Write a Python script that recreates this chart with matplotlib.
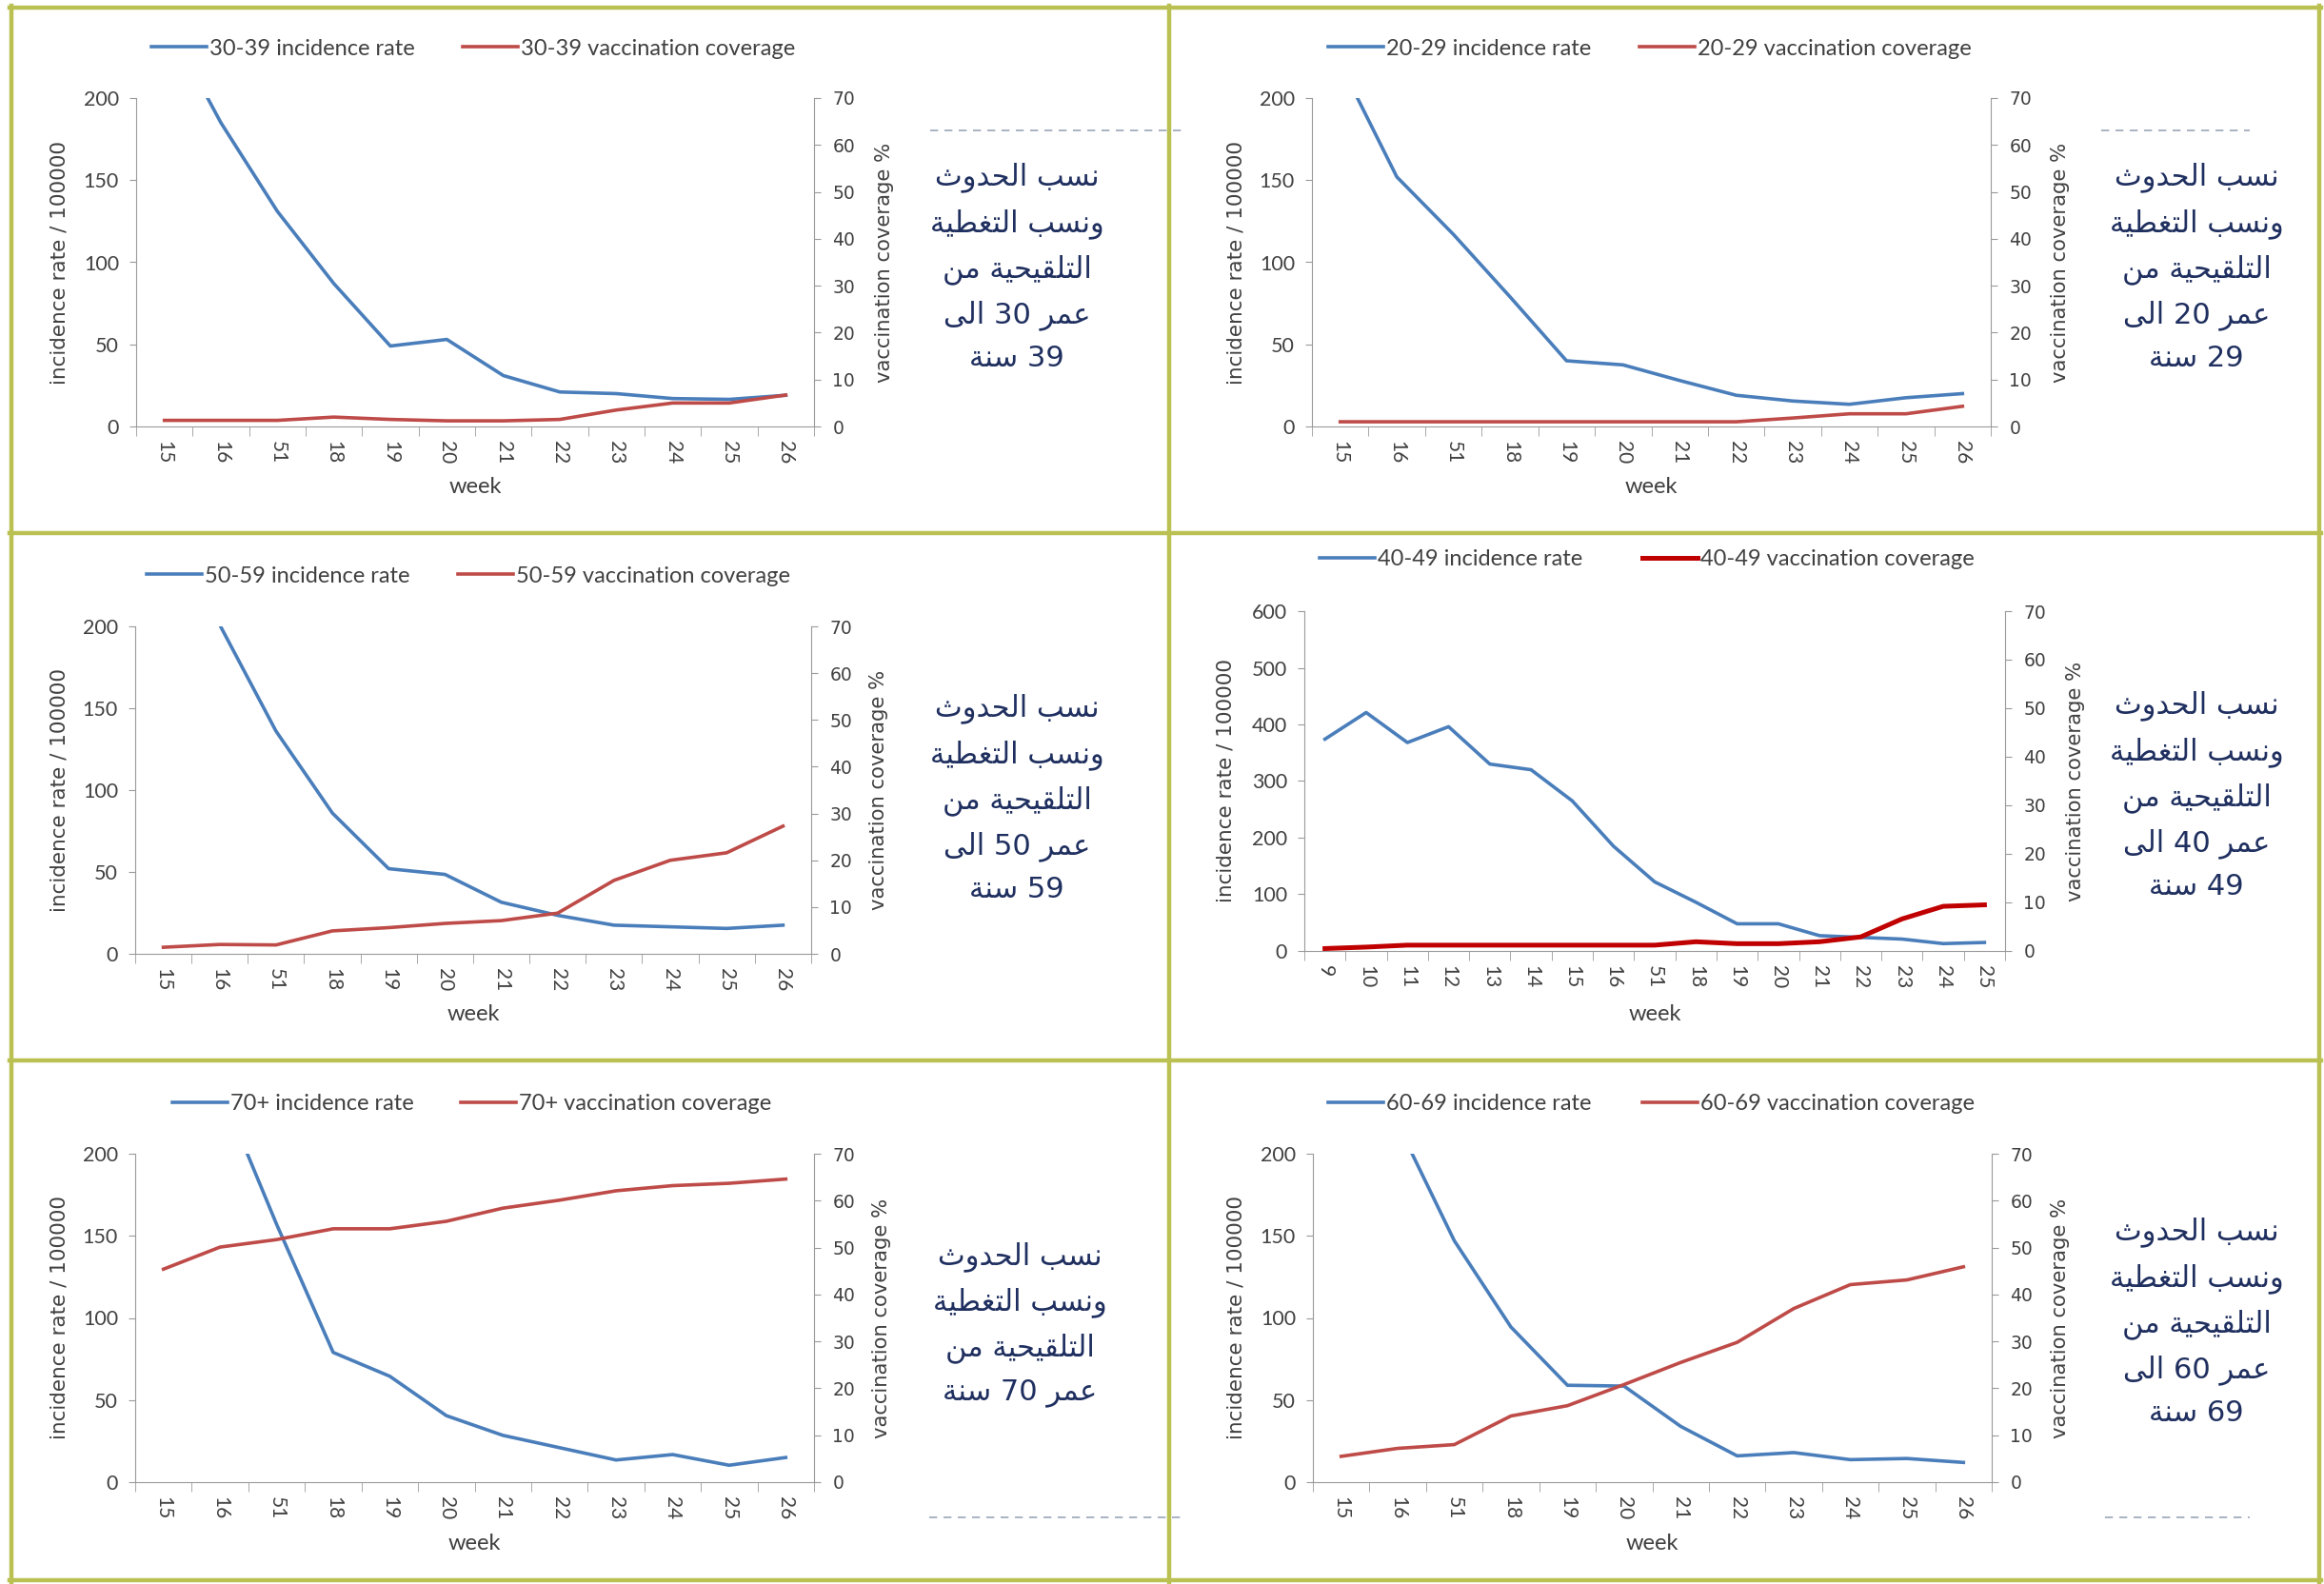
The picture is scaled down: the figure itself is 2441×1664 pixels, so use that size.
#!/usr/bin/python3

import matplotlib
matplotlib.use("Agg")
import matplotlib.pyplot as plt
from matplotlib.lines import Line2D

W, H = 2441, 1664

weeks = ["15", "16", "51", "18", "19", "20", "21", "22", "23", "24", "25", "26"]
weeks_40 = ["9", "10", "11", "12", "13", "14", "15", "16", "51",
            "18", "19", "20", "21", "22", "23", "24", "25"]

inc_30_39 = [249, 185, 131, 87, 49, 53, 31, 21, 20, 17, 16.5, 19]
cov_30_39 = [1.3, 1.3, 1.3, 2.0, 1.5, 1.2, 1.2, 1.5, 3.5, 5.0, 5.0, 6.7]

inc_20_29 = [221, 152, 117, 79, 40, 37.5, 28, 19, 15.5, 13.5, 17.5, 20]
cov_20_29 = [1.0, 1.0, 1.0, 1.0, 1.0, 1.0, 1.0, 1.0, 1.8, 2.7, 2.7, 4.3]

inc_50_59 = [265, 201, 136, 86, 52, 48.5, 31.5, 23.5, 17.5, 16.5, 15.5, 17.5]
cov_50_59 = [1.4, 2.0, 1.9, 4.9, 5.6, 6.5, 7.1, 8.7, 15.7, 20.0, 21.6, 27.3]

inc_40_49 = [374, 421, 368, 396, 330, 320, 265, 185, 122, 86, 48, 48, 27, 24, 21, 13, 15]
cov_40_49 = [0.5, 0.8, 1.2, 1.2, 1.2, 1.2, 1.2, 1.2, 1.2, 1.9, 1.5, 1.5, 1.9, 2.9, 6.6, 9.2, 9.5]

inc_70 = [300, 240, 157, 79, 64.5, 40.5, 28.5, 21, 13.5, 16.8, 10.3, 15]
cov_70 = [45.4, 50.1, 51.7, 54.0, 54.0, 55.6, 58.4, 60.1, 62.1, 63.2, 63.7, 64.6]

inc_60_69 = [245, 218, 147, 94.5, 59, 58.5, 34, 16, 18, 13.7, 14.4, 12]
cov_60_69 = [5.5, 7.2, 8.0, 14.1, 16.3, 20.8, 25.5, 29.8, 37.0, 42.1, 43.1, 45.9]

cap_head = ["نسب الحدوث", "ونسب التغطية", "التلقيحية من"]
cap_30_39 = cap_head + ["عمر 30 الى", "39 سنة"]
cap_20_29 = cap_head + ["عمر 20 الى", "29 سنة"]
cap_50_59 = cap_head + ["عمر 50 الى", "59 سنة"]
cap_40_49 = cap_head + ["عمر 40 الى", "49 سنة"]
cap_70 = cap_head + ["عمر 70 سنة"]
cap_60_69 = cap_head + ["عمر 60 الى", "69 سنة"]

BLUE = "#4A7EBB"
RED = "#BE4B48"
DARK_RED = "#C00000"
GRAY = "#9A9A9A"
TXT = "#404040"
OLIVE = "#BAC152"
NAVY = "#1F2F5F"

# isolated, final, initial, medial presentation forms
FORMS = {
    "ا": (0xFE8D, 0xFE8E, None, None),
    "ب": (0xFE8F, 0xFE90, 0xFE91, 0xFE92),
    "ة": (0xFE93, 0xFE94, None, None),
    "ت": (0xFE95, 0xFE96, 0xFE97, 0xFE98),
    "ث": (0xFE99, 0xFE9A, 0xFE9B, 0xFE9C),
    "ج": (0xFE9D, 0xFE9E, 0xFE9F, 0xFEA0),
    "ح": (0xFEA1, 0xFEA2, 0xFEA3, 0xFEA4),
    "د": (0xFEA9, 0xFEAA, None, None),
    "ر": (0xFEAD, 0xFEAE, None, None),
    "س": (0xFEB1, 0xFEB2, 0xFEB3, 0xFEB4),
    "ط": (0xFEC1, 0xFEC2, 0xFEC3, 0xFEC4),
    "ع": (0xFEC9, 0xFECA, 0xFECB, 0xFECC),
    "غ": (0xFECD, 0xFECE, 0xFECF, 0xFED0),
    "ق": (0xFED5, 0xFED6, 0xFED7, 0xFED8),
    "ل": (0xFEDD, 0xFEDE, 0xFEDF, 0xFEE0),
    "م": (0xFEE1, 0xFEE2, 0xFEE3, 0xFEE4),
    "ن": (0xFEE5, 0xFEE6, 0xFEE7, 0xFEE8),
    "و": (0xFEED, 0xFEEE, None, None),
    "ى": (0xFEEF, 0xFEF0, None, None),
    "ي": (0xFEF1, 0xFEF2, 0xFEF3, 0xFEF4),
}


def shape_word(w):
    out = []
    for i, c in enumerate(w):
        iso, fin, ini, med = FORMS[c]
        prev_joins = i > 0 and FORMS[w[i - 1]][2] is not None
        next_joins = i + 1 < len(w) and ini is not None
        if prev_joins and next_joins:
            g = med
        elif prev_joins:
            g = fin
        elif next_joins:
            g = ini
        else:
            g = iso
        out.append(chr(g))
    return "".join(reversed(out))


def visual(line):
    words = line.split(" ")
    return " ".join(w if w.isdigit() else shape_word(w) for w in reversed(words))


def panel(fig, box, cats, inc, cov, group, ymax, ystep, leg, ylab, week_y,
          cap, cap_xy, red=RED, red_lw=2.6):
    l, r, t, b = box
    ax = fig.add_axes([l / W, 1 - b / H, (r - l) / W, (b - t) / H])
    ax2 = ax.twinx()
    x = list(range(len(cats)))
    l1, = ax.plot(x, inc, color=BLUE, lw=2.6)
    l2, = ax2.plot(x, cov, color=red, lw=red_lw)

    ax.set_xlim(-0.5, len(cats) - 0.5)
    ax.set_ylim(0, ymax)
    ax2.set_ylim(0, 70)
    ax.set_yticks(range(0, ymax + 1, ystep))
    ax2.set_yticks(range(0, 71, 10))
    ax.set_xticks(x)
    ax.set_xticklabels(cats, rotation=270)
    ax.set_xticks([i - 0.5 for i in range(len(cats) + 1)], minor=True)

    for s in ("top", "right"):
        ax.spines[s].set_visible(False)
    for s in ("top", "left", "bottom"):
        ax2.spines[s].set_visible(False)
    ax.spines["left"].set_color(GRAY)
    ax.spines["bottom"].set_color(GRAY)
    ax2.spines["right"].set_color(GRAY)

    ax.tick_params(axis="x", which="major", length=0, pad=11,
                   labelsize=15, labelcolor=TXT)
    ax.tick_params(axis="x", which="minor", length=7, color=GRAY)
    ax.tick_params(axis="y", length=5, color=GRAY, pad=8,
                   labelsize=15.5, labelcolor=TXT)
    ax2.tick_params(axis="y", length=5, color=GRAY, pad=9,
                    labelsize=13.5, labelcolor=TXT)
    for lab in ax2.get_yticklabels():
        lab.set_family("DejaVu Sans")

    ax.set_ylabel("incidence rate / 100000", family="DejaVu Sans",
                  fontsize=15.5, color=TXT, rotation=90, va="center", ha="center")
    ax.yaxis.set_label_coords((ylab[0] - l) / (r - l), 0.5)
    ax2.set_ylabel("vaccination coverage %", family="DejaVu Sans",
                   fontsize=15.2, color=TXT, rotation=90, va="center", ha="center")
    ax2.yaxis.set_label_coords((ylab[1] - l) / (r - l), 0.5)
    ax.set_xlabel("week", fontsize=17, color=TXT, va="center")
    ax.xaxis.set_label_coords(0.5, -(week_y - b) / (b - t))

    for handle, label, lx in ((l1, f"{group} incidence rate", leg[0]),
                              (l2, f"{group} vaccination coverage", leg[1])):
        fig.legend(handles=[handle], labels=[label], loc="center left",
                   bbox_to_anchor=(lx / W, 1 - (leg[2] + 3) / H), frameon=False,
                   borderpad=0, borderaxespad=0, handlelength=2.45,
                   handletextpad=0.15, fontsize=17, labelcolor=TXT)

    fig.text(cap_xy[0] / W, 1 - cap_xy[1] / H, "\n".join(visual(s) for s in cap),
             ha="center", va="center", multialignment="center",
             family="DejaVu Sans", fontsize=22, color=NAVY, linespacing=1.68)


def main():
    plt.rcParams["font.family"] = ["Lato", "DejaVu Sans"]
    fig = plt.figure(figsize=(W / 100, H / 100), dpi=100)
    fig.patch.set_facecolor("white")

    panel(fig, (143, 855, 103, 448), weeks, inc_30_39, cov_30_39, "30-39", 200, 50,
          (159, 486, 48), (62, 929), 511, cap_30_39, (1068, 281))
    panel(fig, (1378, 2091, 103, 448), weeks, inc_20_29, cov_20_29, "20-29", 200, 50,
          (1395, 1722, 48), (1298, 2164), 511, cap_20_29, (2307, 281))
    panel(fig, (142, 852, 658, 1002), weeks, inc_50_59, cov_50_59, "50-59", 200, 50,
          (154, 481, 602), (62, 923), 1066, cap_50_59, (1068, 839))
    panel(fig, (1370, 2106, 642, 999), weeks_40, inc_40_49, cov_40_49, "40-49", 600, 100,
          (1386, 1725, 585), (1287, 2180), 1065, cap_40_49, (2307, 836),
          red=DARK_RED, red_lw=3.6)
    panel(fig, (142, 855, 1212, 1557), weeks, inc_70, cov_70, "70+", 200, 50,
          (181, 484, 1157), (62, 926), 1621, cap_70, (1071, 1391))
    panel(fig, (1379, 2092, 1212, 1557), weeks, inc_60_69, cov_60_69, "60-69", 200, 50,
          (1395, 1725, 1157), (1298, 2164), 1621, cap_60_69, (2307, 1389))

    # panel frames
    for xp in (12, 1228, 2436):
        fig.add_artist(Line2D([xp / W, xp / W], [1 - 6 / H, 1 - 1662 / H],
                              color=OLIVE, lw=3.2))
    for yp in (8, 560, 1114, 1660):
        fig.add_artist(Line2D([10 / W, 2438 / W], [1 - yp / H, 1 - yp / H],
                              color=OLIVE, lw=3.2))
    # thin dashed separators
    for x0, x1, yp in ((977, 1245, 137), (2207, 2363, 137),
                       (976, 1245, 1594), (2211, 2363, 1594)):
        fig.add_artist(Line2D([x0 / W, x1 / W], [1 - yp / H, 1 - yp / H],
                              color="#9AA6B8", lw=1.2, dashes=(5, 4)))

    fig.savefig("out.png", dpi=100, facecolor="white")


if __name__ == "__main__":
    main()
